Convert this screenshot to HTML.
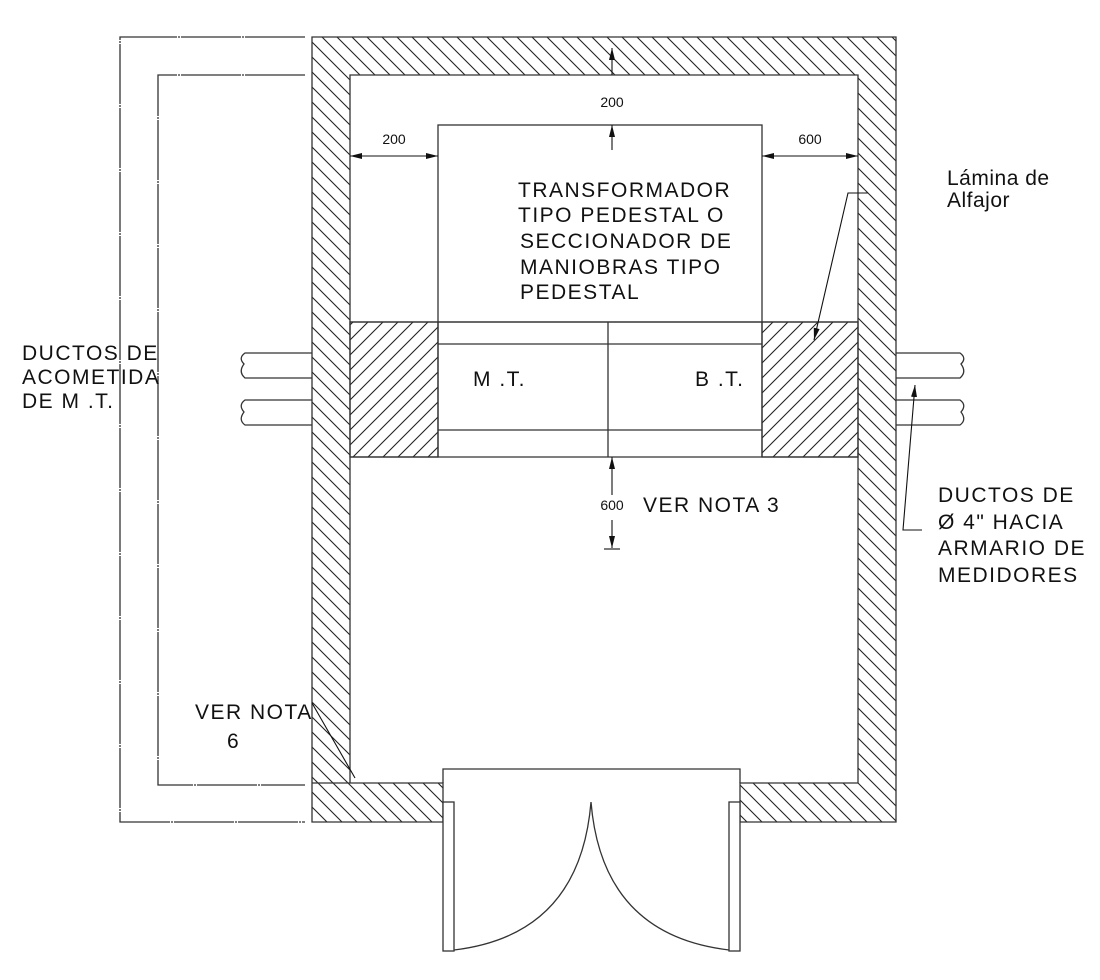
<!DOCTYPE html>
<html><head><meta charset="utf-8"><style>
html,body{margin:0;padding:0;background:#fff}
svg{display:block}
text{font-family:"Liberation Sans",sans-serif;fill:#111}
</style></head><body>
<svg width="1100" height="980" viewBox="0 0 1100 980" xmlns="http://www.w3.org/2000/svg">
<defs>
<pattern id="hb" patternUnits="userSpaceOnUse" width="15" height="15">
<path d="M-2,-2 L17,17 M-17,-2 L2,17 M13,-2 L32,17" stroke="#222" stroke-width="1.1"/>
</pattern>
<pattern id="hf" patternUnits="userSpaceOnUse" width="15" height="15">
<path d="M-2,17 L17,-2 M-17,17 L2,-2 M13,17 L32,-2" stroke="#222" stroke-width="1.1"/>
</pattern>
<marker id="ar" markerWidth="12" markerHeight="6" refX="12" refY="3" orient="auto" markerUnits="userSpaceOnUse">
<path d="M0,0 L12,3 L0,6 z" fill="#111"/></marker>
</defs>
<g stroke="#333" stroke-width="1.3" fill="none">
<path d="M305,37 H120 V822 H305" stroke-dasharray="60,1,2,1"/>
<path d="M305,75 H158 V785 H305" stroke-dasharray="60,1,2,1"/>
<path d="M312,37 H896 V822 H740 V783 H858 V75 H350 V783 H443 V822 H312 Z" fill="url(#hb)"/>
<rect x="350" y="322" width="88" height="135" fill="url(#hf)"/>
<rect x="762" y="322" width="96" height="135" fill="url(#hf)"/>
<line x1="312" y1="783" x2="350" y2="783"/>
<rect x="438" y="125" width="324" height="197" fill="#fff"/>
<line x1="350" y1="322" x2="858" y2="322"/>
<line x1="350" y1="457" x2="858" y2="457"/>
<line x1="438" y1="344" x2="762" y2="344"/>
<line x1="438" y1="430" x2="762" y2="430"/>
<line x1="438" y1="322" x2="438" y2="457"/>
<line x1="762" y1="322" x2="762" y2="457"/>
<line x1="608" y1="322" x2="608" y2="457"/>
<path d="M443,783 V769 H740 V783"/>
<rect x="443" y="802" width="11" height="149" fill="#fff"/>
<rect x="729" y="802" width="11" height="149" fill="#fff"/>
<path d="M454,950 Q580,935 591,802 Q602,935 729,950"/>
<path d="M312,353 H245 Q238,358 244,364 Q238,372 245,378 H312"/>
<path d="M312,400 H245 Q238,405 244,412 Q238,420 245,425 H312"/>
<path d="M896,353 H960 Q967,358 961,364 Q967,372 960,378 H896"/>
<path d="M896,400 H960 Q967,405 961,412 Q967,420 960,425 H896"/>
</g>
<g stroke="#111" stroke-width="1.1" fill="none">
<line x1="612" y1="62" x2="612" y2="48" marker-end="url(#ar)"/>
<line x1="612" y1="75" x2="612" y2="62"/>
<line x1="612" y1="150" x2="612" y2="125" marker-end="url(#ar)"/>
<line x1="394" y1="156" x2="350" y2="156" marker-end="url(#ar)"/>
<line x1="394" y1="156" x2="438" y2="156" marker-end="url(#ar)"/>
<line x1="810" y1="156" x2="762" y2="156" marker-end="url(#ar)"/>
<line x1="810" y1="156" x2="858" y2="156" marker-end="url(#ar)"/>
<line x1="612" y1="495" x2="612" y2="457" marker-end="url(#ar)"/>
<line x1="612" y1="520" x2="612" y2="548" marker-end="url(#ar)"/>
<line x1="604" y1="549" x2="620" y2="549"/>
<path d="M868,193 H848 L814,340" marker-end="url(#ar)"/>
<path d="M922,530 H903 L915,385" marker-end="url(#ar)"/>
<line x1="312" y1="703" x2="355" y2="778"/>
</g>
<g font-size="14">
<text x="612" y="107" text-anchor="middle">200</text>
<text x="394" y="144" text-anchor="middle">200</text>
<text x="810" y="144" text-anchor="middle">600</text>
<text x="612" y="510" text-anchor="middle">600</text>
</g>
<g font-size="21" letter-spacing="1.5">
<text x="518" y="197">TRANSFORMADOR</text>
<text x="518" y="222">TIPO PEDESTAL O</text>
<text x="520" y="248">SECCIONADOR DE</text>
<text x="520" y="274">MANIOBRAS TIPO</text>
<text x="520" y="299">PEDESTAL</text>
<text x="473" y="386">M .T.</text>
<text x="695" y="386">B .T.</text>
<text x="643" y="512">VER NOTA 3</text>
<text x="22" y="360">DUCTOS DE</text>
<text x="22" y="384">ACOMETIDA</text>
<text x="22" y="408">DE M .T.</text>
<text x="195" y="719">VER NOTA</text>
<text x="227" y="748">6</text>
<text x="947" y="185" letter-spacing="0.5">Lámina de</text>
<text x="947" y="207" letter-spacing="0.5">Alfajor</text>
<text x="938" y="502">DUCTOS DE</text>
<text x="938" y="529">Ø 4" HACIA</text>
<text x="938" y="555">ARMARIO DE</text>
<text x="938" y="582">MEDIDORES</text>
</g>
</svg>
</body></html>
